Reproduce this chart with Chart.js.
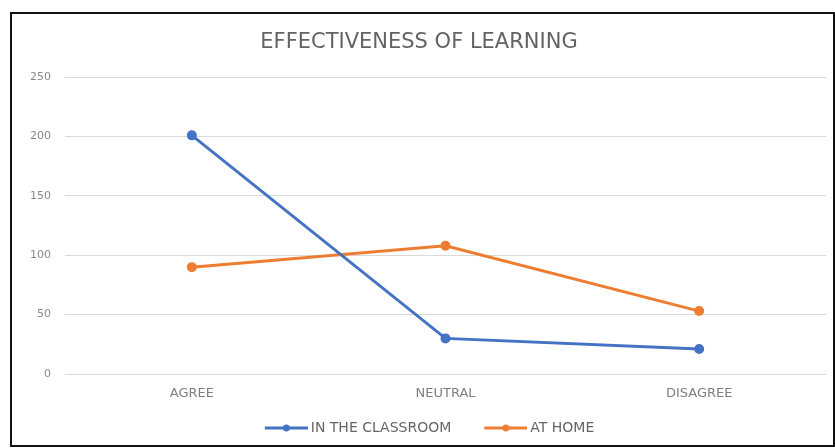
<!DOCTYPE html>
<html>
<head>
<meta charset="utf-8">
<script src="https://cdn.jsdelivr.net/npm/chart.js@4/dist/chart.umd.min.js"></script>
<style>
  body { margin: 0; background: #fff; }
  #frame {
    position: absolute; left: 10px; top: 12px;
    width: 821px; height: 431px;
    border: 2px solid #111;
  }
  canvas { display: block; }
</style>
</head>
<body>
<div id="frame"><canvas id="chart" width="821" height="431"></canvas></div>
<script>
// Effectiveness of learning

const CATEGORIES = ['AGREE', 'NEUTRAL', 'DISAGREE'];
const CLASSROOM = [201, 30, 21];
const HOME = [90, 108, 53];
const Y_TICKS = [0, 50, 100, 150, 200, 250];

const BLUE = '#4472C4';
const ORANGE = '#ED7D31';
const FONT = "'DejaVu Sans', sans-serif";

// line-with-dot swatch for the legend; left part is blank so items sit further apart
const SWATCH_BOX = 60;
function legendSwatch(color) {
    const c = document.createElement('canvas');
    c.width = SWATCH_BOX + 8;
    c.height = 10;
    const g = c.getContext('2d');
    const x0 = c.width - 43;
    g.strokeStyle = color;
    g.lineWidth = 3;
    g.beginPath();
    g.moveTo(x0, 5);
    g.lineTo(c.width, 5);
    g.stroke();
    g.fillStyle = color;
    g.beginPath();
    g.arc(x0 + 21.5, 5, 3.5, 0, Math.PI * 2);
    g.fill();
    return c;
}

function makeDataset(label, data, color) {
    return {
        label: label,
        data: data,
        borderColor: color,
        backgroundColor: color,
        borderWidth: 3,
        pointRadius: 3.5,
        pointHoverRadius: 3.5,
        tension: 0,
        fill: false
    };
}

const ctx = document.getElementById('chart').getContext('2d');
new Chart(ctx, {
    type: 'line',
    data: {
        labels: CATEGORIES,
        datasets: [
            makeDataset('IN THE CLASSROOM', CLASSROOM, BLUE),
            makeDataset('AT HOME', HOME, ORANGE)
        ]
    },
    options: {
        responsive: false,
        animation: false,
        layout: { padding: { left: 0, right: 7, top: 16, bottom: 0 } },
        plugins: {
            title: {
                display: true,
                text: 'EFFECTIVENESS OF LEARNING',
                color: '#636363',
                font: { family: FONT, size: 21, weight: 'normal', lineHeight: 1.2 },
                padding: { top: 0, bottom: 22 }
            },
            legend: {
                position: 'bottom',
                labels: {
                    color: '#666666',
                    font: { family: FONT, size: 14 },
                    usePointStyle: true,
                    pointStyleWidth: SWATCH_BOX,
                    padding: 12,
                    generateLabels: (chart) => chart.data.datasets.map((ds, i) => ({
                        text: ds.label,
                        fontColor: '#666666',
                        pointStyle: legendSwatch(ds.borderColor),
                        datasetIndex: i,
                        hidden: false,
                        lineWidth: 0
                    }))
                }
            },
            tooltip: { enabled: false }
        },
        scales: {
            x: {
                offset: true,
                afterFit: (axis) => { axis.height = 35; },
                grid: { display: false, drawTicks: false },
                border: { display: false },
                ticks: {
                    color: '#808080',
                    font: { family: FONT, size: 13 },
                    padding: 12
                }
            },
            y: {
                min: 0,
                max: 250,
                afterBuildTicks: (axis) => { axis.ticks = Y_TICKS.map(v => ({ value: v })); },
                afterFit: (axis) => { axis.width = 53; },
                grid: { color: '#d9d9d9', drawTicks: false, lineWidth: 1 },
                border: { display: false },
                ticks: {
                    color: '#8a8a8a',
                    font: { family: FONT, size: 11 },
                    padding: 14
                }
            }
        }
    }
});
</script>
</body>
</html>
